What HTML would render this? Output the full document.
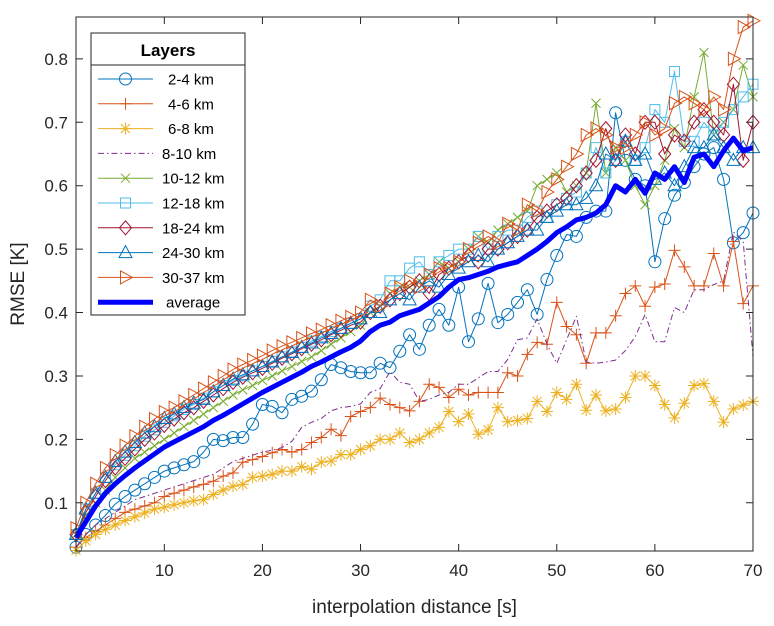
<!DOCTYPE html>
<html><head><meta charset="utf-8"><style>
body{margin:0;background:#fff;}
svg{display:block;font-family:"Liberation Sans",Arial,sans-serif;}
</style></head><body>
<svg id="chart" width="774" height="626" xmlns="http://www.w3.org/2000/svg">
<rect width="774" height="626" fill="#fff"/>
<g id="marks"></g>
<g id="axes"></g>
<g id="legend"></g>
</svg>
<script>
const xTicks=[10,20,30,40,50,60,70];
const yTicks=[0.1,0.2,0.3,0.4,0.5,0.6,0.7,0.8];
const seriesNames=["2-4 km","4-6 km","6-8 km","8-10 km","10-12 km","12-18 km","18-24 km","24-30 km","30-37 km","average"];
const s24=[0.03,0.05,0.065,0.08,0.098,0.11,0.12,0.13,0.14,0.15,0.155,0.16,0.165,0.18,0.2,0.198,0.203,0.203,0.224,0.255,0.252,0.242,0.263,0.268,0.276,0.294,0.318,0.313,0.307,0.305,0.305,0.32,0.313,0.339,0.365,0.342,0.38,0.405,0.38,0.44,0.354,0.39,0.446,0.384,0.397,0.416,0.436,0.397,0.452,0.49,0.523,0.52,0.55,0.56,0.56,0.715,0.64,0.61,0.6,0.48,0.548,0.585,0.605,0.63,0.65,0.66,0.61,0.51,0.526,0.557];
const s46=[0.03,0.045,0.055,0.065,0.075,0.085,0.09,0.095,0.1,0.11,0.115,0.12,0.125,0.129,0.134,0.142,0.147,0.164,0.168,0.173,0.179,0.184,0.18,0.184,0.195,0.203,0.216,0.206,0.236,0.244,0.25,0.265,0.255,0.25,0.245,0.26,0.287,0.282,0.266,0.279,0.27,0.274,0.274,0.274,0.305,0.3,0.334,0.353,0.35,0.416,0.378,0.365,0.32,0.368,0.368,0.395,0.43,0.442,0.41,0.44,0.445,0.498,0.472,0.442,0.442,0.493,0.442,0.512,0.414,0.442];
const s68=[0.025,0.04,0.05,0.058,0.065,0.072,0.078,0.084,0.09,0.093,0.097,0.1,0.103,0.105,0.113,0.12,0.126,0.129,0.14,0.142,0.145,0.15,0.15,0.157,0.153,0.164,0.166,0.176,0.176,0.184,0.19,0.2,0.2,0.21,0.195,0.2,0.21,0.219,0.244,0.228,0.24,0.208,0.215,0.25,0.228,0.23,0.233,0.26,0.244,0.274,0.263,0.287,0.246,0.27,0.245,0.248,0.266,0.3,0.3,0.285,0.255,0.234,0.257,0.285,0.288,0.26,0.227,0.248,0.254,0.26];
const s810=[0.03,0.05,0.065,0.075,0.085,0.095,0.105,0.11,0.115,0.12,0.125,0.13,0.135,0.14,0.145,0.155,0.165,0.17,0.175,0.18,0.183,0.187,0.197,0.219,0.227,0.233,0.245,0.25,0.252,0.256,0.274,0.28,0.307,0.29,0.287,0.26,0.263,0.27,0.274,0.287,0.287,0.297,0.307,0.307,0.326,0.357,0.36,0.39,0.35,0.32,0.357,0.394,0.322,0.32,0.322,0.325,0.34,0.362,0.397,0.354,0.354,0.408,0.4,0.436,0.436,0.444,0.45,0.527,0.512,0.33];
const s1012=[0.05,0.08,0.1,0.12,0.14,0.155,0.17,0.18,0.19,0.2,0.21,0.22,0.23,0.24,0.25,0.26,0.27,0.278,0.285,0.293,0.3,0.308,0.315,0.323,0.33,0.34,0.35,0.36,0.37,0.38,0.4,0.41,0.43,0.44,0.44,0.45,0.46,0.48,0.47,0.48,0.5,0.52,0.51,0.53,0.54,0.55,0.56,0.6,0.61,0.62,0.59,0.6,0.62,0.73,0.62,0.66,0.64,0.6,0.57,0.6,0.64,0.69,0.66,0.74,0.81,0.68,0.7,0.72,0.79,0.74];
const s1218=[0.05,0.09,0.115,0.14,0.16,0.175,0.19,0.205,0.215,0.227,0.237,0.247,0.255,0.265,0.275,0.285,0.293,0.3,0.308,0.315,0.323,0.33,0.338,0.345,0.355,0.362,0.37,0.375,0.383,0.39,0.41,0.42,0.45,0.45,0.47,0.48,0.46,0.48,0.49,0.5,0.5,0.52,0.5,0.52,0.53,0.53,0.55,0.56,0.55,0.57,0.58,0.59,0.62,0.66,0.62,0.64,0.67,0.64,0.66,0.72,0.7,0.78,0.67,0.67,0.7,0.68,0.7,0.72,0.74,0.76];
const s1824=[0.05,0.085,0.11,0.135,0.155,0.17,0.185,0.2,0.21,0.222,0.232,0.242,0.25,0.26,0.27,0.28,0.29,0.298,0.305,0.312,0.32,0.328,0.335,0.343,0.35,0.357,0.365,0.372,0.38,0.385,0.4,0.41,0.42,0.43,0.44,0.45,0.43,0.46,0.47,0.48,0.49,0.48,0.5,0.5,0.51,0.52,0.53,0.55,0.56,0.57,0.58,0.6,0.62,0.64,0.69,0.64,0.68,0.65,0.7,0.7,0.65,0.68,0.67,0.7,0.72,0.7,0.68,0.76,0.64,0.7];
const s2430=[0.05,0.09,0.115,0.14,0.165,0.18,0.195,0.21,0.22,0.233,0.24,0.25,0.257,0.263,0.275,0.285,0.295,0.302,0.308,0.315,0.322,0.33,0.337,0.345,0.352,0.36,0.367,0.375,0.383,0.39,0.4,0.4,0.42,0.43,0.42,0.44,0.45,0.44,0.46,0.47,0.48,0.49,0.48,0.5,0.51,0.52,0.53,0.53,0.55,0.56,0.57,0.57,0.58,0.6,0.65,0.64,0.67,0.64,0.65,0.61,0.62,0.6,0.63,0.66,0.66,0.68,0.66,0.64,0.66,0.66];
const s3037=[0.06,0.1,0.13,0.155,0.175,0.19,0.205,0.22,0.232,0.243,0.25,0.26,0.27,0.28,0.29,0.3,0.31,0.318,0.325,0.332,0.34,0.347,0.353,0.36,0.367,0.373,0.38,0.387,0.393,0.4,0.42,0.41,0.43,0.44,0.45,0.44,0.46,0.47,0.47,0.48,0.5,0.51,0.52,0.51,0.54,0.53,0.57,0.56,0.59,0.61,0.63,0.65,0.68,0.69,0.68,0.66,0.66,0.68,0.7,0.68,0.69,0.73,0.74,0.73,0.72,0.74,0.72,0.8,0.85,0.86];
const sAvg=[0.045,0.07,0.095,0.115,0.13,0.143,0.155,0.166,0.177,0.188,0.196,0.204,0.212,0.22,0.23,0.238,0.247,0.256,0.265,0.274,0.282,0.29,0.298,0.306,0.315,0.322,0.33,0.338,0.345,0.355,0.37,0.38,0.385,0.395,0.4,0.405,0.415,0.425,0.44,0.452,0.455,0.46,0.465,0.472,0.476,0.48,0.49,0.5,0.512,0.526,0.535,0.546,0.55,0.557,0.57,0.6,0.59,0.61,0.588,0.62,0.61,0.63,0.605,0.645,0.65,0.63,0.655,0.675,0.655,0.66];

const L=76,R=753,T=17,B=551,XMIN=1,XMAX=70,YMIN=0.024,YMAX=0.866;
function sx(v){return L+(v-XMIN)/(XMAX-XMIN)*(R-L);}
function sy(v){return B-(v-YMIN)/(YMAX-YMIN)*(B-T);}
const NS="http://www.w3.org/2000/svg";
function mk(tag,attrs,parent){const e=document.createElementNS(NS,tag);for(const k in attrs)e.setAttribute(k,attrs[k]);parent.appendChild(e);return e;}

const styles=[
 {d:s24,c:"#0072BD",m:"circle",dash:""},
 {d:s46,c:"#D95319",m:"plus",dash:""},
 {d:s68,c:"#EDB120",m:"star",dash:""},
 {d:s810,c:"#7E2F8E",m:"none",dash:"6,3,1.5,3"},
 {d:s1012,c:"#77AC30",m:"x",dash:""},
 {d:s1218,c:"#4DBEEE",m:"square",dash:""},
 {d:s1824,c:"#A2142F",m:"diamond",dash:""},
 {d:s2430,c:"#0072BD",m:"tri",dash:""},
 {d:s3037,c:"#D95319",m:"right",dash:""},
 {d:sAvg,c:"#0000FF",m:"none",dash:"",w:5}
];
function marker(g,type,x,y,c){
 const a={fill:"none",stroke:c,"stroke-width":1};let e=null;
 if(type==="circle")e=mk("circle",Object.assign({cx:x,cy:y,r:6},a),g);
 else if(type==="plus")e=mk("path",Object.assign({d:`M${x-6},${y}H${x+6}M${x},${y-6}V${y+6}`},a),g);
 else if(type==="x")e=mk("path",Object.assign({d:`M${x-4.5},${y-4.5}L${x+4.5},${y+4.5}M${x-4.5},${y+4.5}L${x+4.5},${y-4.5}`},a),g);
 else if(type==="star")e=mk("path",Object.assign({d:`M${x-6},${y}H${x+6}M${x},${y-6}V${y+6}M${x-4.5},${y-4.5}L${x+4.5},${y+4.5}M${x-4.5},${y+4.5}L${x+4.5},${y-4.5}`},a),g);
 else if(type==="square")e=mk("rect",Object.assign({x:x-5,y:y-5,width:10,height:10},a),g);
 else if(type==="diamond")e=mk("path",Object.assign({d:`M${x},${y-7}L${x+6},${y}L${x},${y+7}L${x-6},${y}Z`},a),g);
 else if(type==="tri")e=mk("path",Object.assign({d:`M${x},${y-7}L${x+6.5},${y+5}L${x-6.5},${y+5}Z`},a),g);
 else if(type==="right")e=mk("path",Object.assign({d:`M${x+7},${y}L${x-5},${y-6.5}L${x-5},${y+6.5}Z`},a),g);
 if(e){
 }
}
const marks=document.getElementById("marks");
styles.forEach((s,i)=>{
 const g=mk("g",{},marks);
 
 
 const pts=s.d.map((v,j)=>sx(j+1).toFixed(1)+","+sy(v).toFixed(1)).join(" ");
 const pl=mk("polyline",{points:pts,fill:"none",stroke:s.c,"stroke-width":s.w||1,"stroke-linejoin":"round"},g);
 if(s.dash)pl.setAttribute("stroke-dasharray",s.dash);
 
 
 if(s.m!=="none")s.d.forEach((v,j)=>marker(g,s.m,sx(j+1),sy(v),s.c));
});
const ax=document.getElementById("axes");
const box=mk("rect",{x:L,y:T,width:R-L,height:B-T,fill:"none",stroke:"#262626","stroke-width":1},ax);


xTicks.forEach(t=>{const x=sx(t);
 mk("path",{d:`M${x},${B}V${B-7}M${x},${T}V${T+7}`,stroke:"#262626","stroke-width":1},ax);
 const tx=mk("text",{x:x,y:B+25,"text-anchor":"middle","font-size":"17",fill:"#262626"},ax);tx.textContent=t;
 
 });
yTicks.forEach(t=>{const y=sy(t);
 mk("path",{d:`M${L},${y}H${L+7}M${R},${y}H${R-7}`,stroke:"#262626","stroke-width":1},ax);
 const tx=mk("text",{x:L-8,y:y+6,"text-anchor":"end","font-size":"17",fill:"#262626"},ax);tx.textContent=t.toFixed(1);
 
 });
const xt=mk("text",{x:(L+R)/2,y:613,"text-anchor":"middle","font-size":"19",fill:"#262626"},ax);xt.textContent="interpolation distance [s]";


const yt=mk("text",{x:0,y:0,"text-anchor":"middle","font-size":"19",fill:"#262626",transform:`translate(24,${(T+B)/2}) rotate(-90)`},ax);yt.textContent="RMSE [K]";


const lg=document.getElementById("legend");
const lb=mk("rect",{x:91,y:33,width:154,height:282,fill:"#fff",stroke:"#262626","stroke-width":1},lg);


mk("path",{d:"M91,65H245",stroke:"#262626","stroke-width":1},lg);
const lt=mk("text",{x:168,y:56,"text-anchor":"middle","font-size":"17","font-weight":"bold",fill:"#000"},lg);lt.textContent="Layers";


styles.forEach((s,i)=>{
 const y=79+i*24.8;
 const g=mk("g",{},lg);
 
 
 const l=mk("path",{d:`M98,${y}H153`,stroke:s.c,"stroke-width":s.w||1,fill:"none"},g);
 if(s.dash)l.setAttribute("stroke-dasharray",s.dash);
 if(s.m!=="none")marker(g,s.m,125.5,y,s.c);
 const t=mk("text",{x:i===9?166:(i<3?168:162),y:y+5.5,"font-size":"15",fill:"#000"},g);t.textContent=seriesNames[i];
});
</script>
</body></html>
